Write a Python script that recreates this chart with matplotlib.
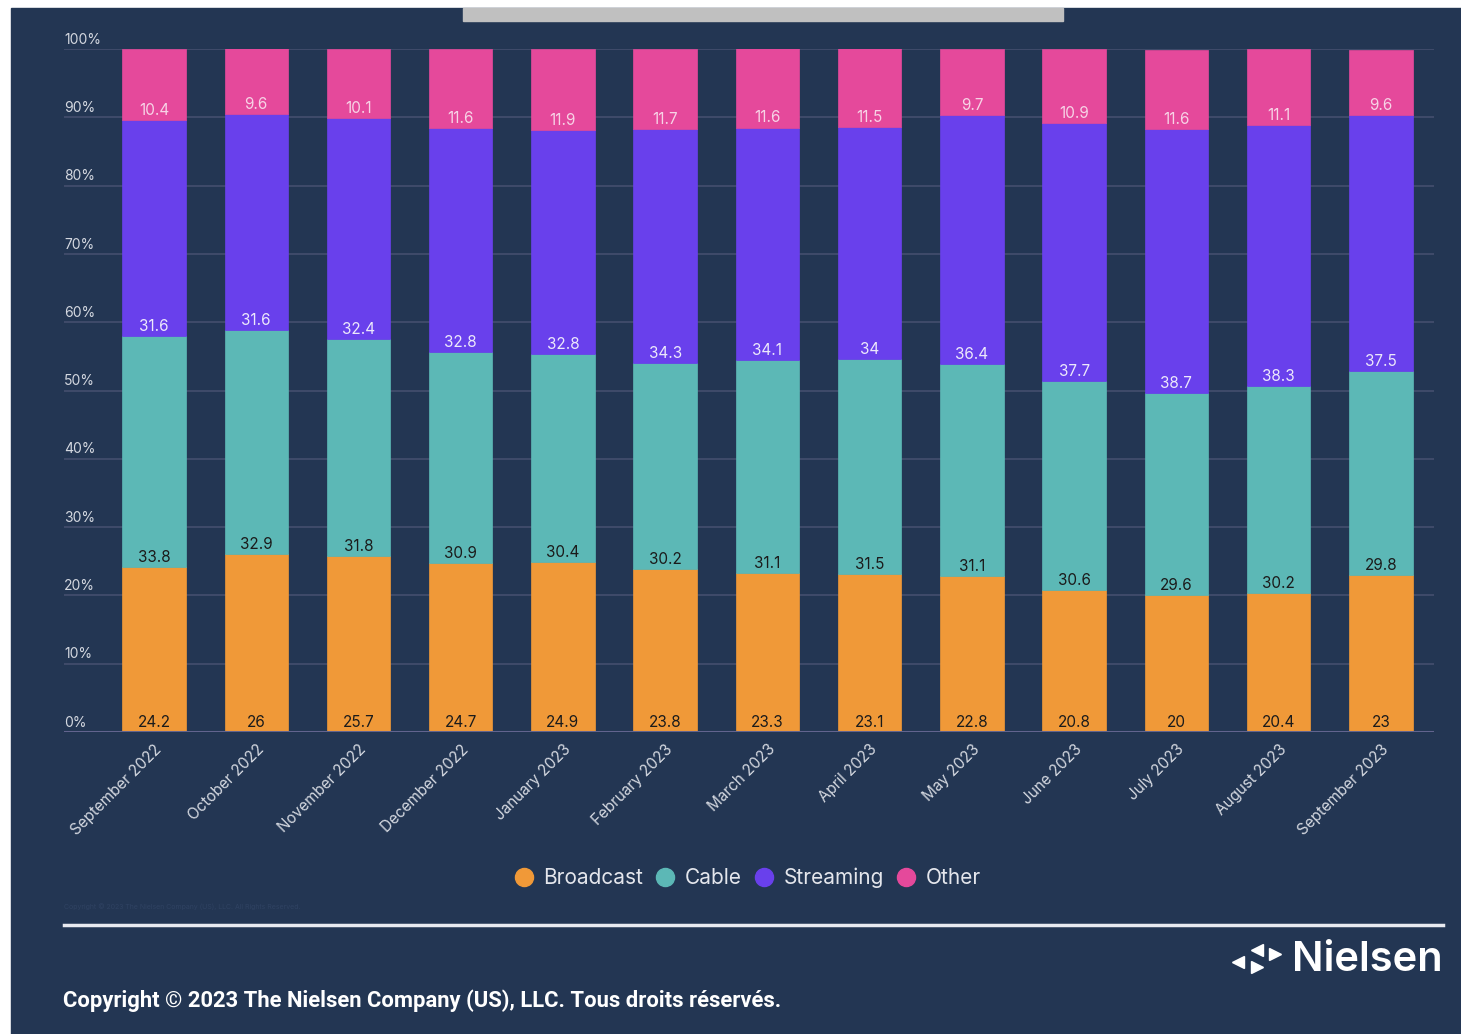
import numpy as np
import matplotlib.pyplot as plt
from matplotlib.patches import Rectangle
from matplotlib.lines import Line2D

plt.rcParams['font.family'] = ['Inter', 'DejaVu Sans']

# ── Data ─────────────────────────────────────────────────────────────────────
months = ['September 2022', 'October 2022', 'November 2022', 'December 2022',
          'January 2023', 'February 2023', 'March 2023', 'April 2023',
          'May 2023', 'June 2023', 'July 2023', 'August 2023', 'September 2023']
broadcast = [24.2, 26, 25.7, 24.7, 24.9, 23.8, 23.3, 23.1, 22.8, 20.8, 20, 20.4, 23]
cable = [33.8, 32.9, 31.8, 30.9, 30.4, 30.2, 31.1, 31.5, 31.1, 30.6, 29.6, 30.2, 29.8]
streaming = [31.6, 31.6, 32.4, 32.8, 32.8, 34.3, 34.1, 34, 36.4, 37.7, 38.7, 38.3, 37.5]
other = [10.4, 9.6, 10.1, 11.6, 11.9, 11.7, 11.6, 11.5, 9.7, 10.9, 11.6, 11.1, 9.6]
y_ticks = [0, 10, 20, 30, 40, 50, 60, 70, 80, 90, 100]

series = ['Broadcast', 'Cable', 'Streaming', 'Other']
values = [broadcast, cable, streaming, other]
colors = ['#f09938', '#5cb8b6', '#6940ec', '#e5499b']
label_colors = ['#1b1b1b', '#1b1b1b', '#ece8fb', '#f7d3e6']

NAVY = '#233653'
W, H = 1461, 1034

fig = plt.figure(figsize=(W / 100, H / 100), dpi=100, facecolor='white')

# navy panel + grey tab on top
fig.patches.append(Rectangle((11 / W, 0), 1 - 11 / W, 1 - 8 / H,
                             transform=fig.transFigure, color=NAVY, zorder=-2))
fig.patches.append(Rectangle((463 / W, 1 - 21 / H), 600 / W, 13 / H,
                             transform=fig.transFigure, color='#c0c0c0', zorder=-1))

ax = fig.add_axes([64 / W, 1 - 732 / H, (1434 - 64) / W, (732 - 49) / H])
ax.set_zorder(2)
ax.set_facecolor(NAVY)
for s in ax.spines.values():
    s.set_visible(False)

x = np.arange(len(months))
ax.set_xlim(-0.88, len(months) - 1 + 0.52)
ax.set_ylim(0, 100)

# gridlines and y labels drawn inside the plot area
for t in y_ticks[1:]:
    ax.axhline(t, color='#3f4b6a', lw=1.4, zorder=0)
for t in y_ticks:
    ax.text(0, t + 0.35, f'{t}%', transform=ax.get_yaxis_transform(),
            color='#d4d8e0', fontsize=10, ha='left', va='bottom')
ax.axhline(0, color='#62648e', lw=2.2, zorder=5)
ax.set_yticks([])

bottom = np.zeros(len(months))
for name, vals, col, lc in zip(series, values, colors, label_colors):
    vals = np.array(vals, dtype=float)
    ax.bar(x, vals, 0.62, bottom=bottom, color=col, edgecolor=col,
           linewidth=0.5, zorder=2)
    for xi, b, v in zip(x, bottom, vals):
        ax.annotate(f'{v:g}', (xi, b), xytext=(0, 1.5), textcoords='offset points',
                    ha='center', va='bottom', fontsize=11, color=lc, zorder=6)
    bottom += vals

ax.set_xticks(x)
ax.set_xticklabels(months, rotation=45, ha='right', rotation_mode='anchor',
                   fontsize=11, color='#d4d8e0')
ax.tick_params(axis='x', length=0, pad=7)

# legend
handles = [Line2D([], [], marker='o', ls='', markersize=13, color=c) for c in colors]
fig.legend(handles, series, loc='center', bbox_to_anchor=(747 / W, 1 - 878 / H),
           ncol=4, frameon=False, fontsize=15, labelcolor='#e4e6ec',
           handletextpad=0.45, columnspacing=0.55, handlelength=1.0)

# footer
fig.add_artist(Line2D([64 / W, 1443 / W], [1 - 925 / H] * 2, color='#e8eaf0', lw=2.5))
fig.text(64 / W, 1 - 907 / H,
         'Copyright © 2023 The Nielsen Company (US), LLC. All Rights Reserved.',
         fontsize=5, color='#2f4262', ha='left', va='center')
fig.text(63 / W, 1 - 1001 / H,
         'Copyright © 2023 The Nielsen Company (US), LLC. Tous droits réservés.',
         fontsize=15.8, fontweight='bold', color='white', ha='left', va='center',
         family=['Roboto', 'DejaVu Sans'])

# Nielsen logo
fig.text(1443 / W, 1 - 960 / H, 'Nielsen', fontsize=30, fontweight='semibold',
         color='white', ha='right', va='center')
for px, py, m in [(1238, 962, '<'), (1257, 950, '<'), (1275, 954, '>'), (1257, 967, '>')]:
    fig.add_artist(Line2D([px / W], [1 - py / H], marker=m, markersize=9,
                          color='white', ls=''))

fig.savefig('out.png', dpi=100, facecolor='white')
